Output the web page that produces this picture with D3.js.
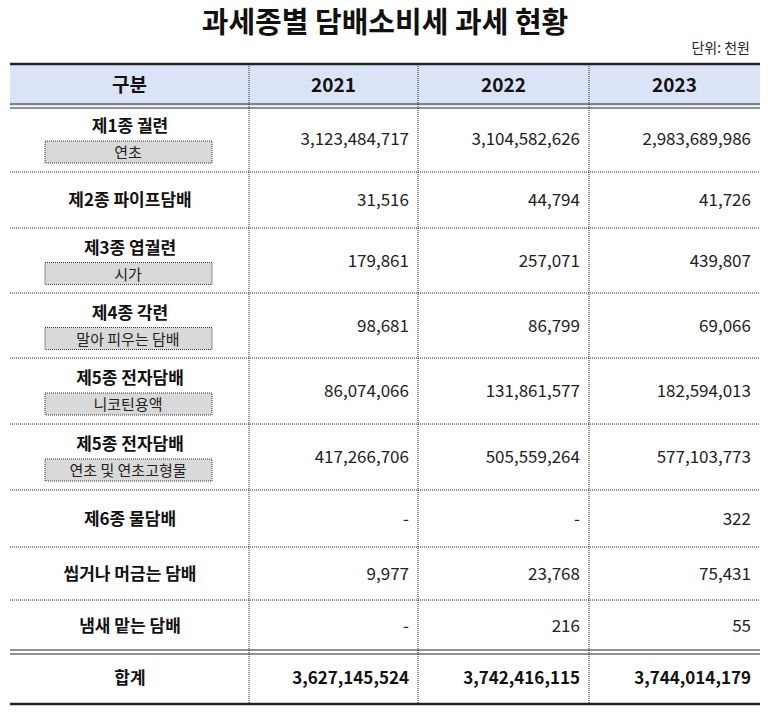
<!DOCTYPE html>
<html><head><meta charset="utf-8">
<script src="https://cdn.jsdelivr.net/npm/d3@7"></script>
<style>body{margin:0;background:#fff}</style></head>
<body><svg id="c" width="768" height="712"></svg>
<script>
const title = "과세종별 담배소비세 과세 현황";
const unit = "단위: 천원";
const headers = ["구분", "2021", "2022", "2023"];
const categories = ["제1종 궐련", "제2종 파이프담배", "제3종 엽궐련", "제4종 각련", "제5종 전자담배", "제5종 전자담배", "제6종 물담배", "씹거나 머금는 담배", "냄새 맡는 담배"];
const subLabels = ["연초", "", "시가", "말아 피우는 담배", "니코틴용액", "연초 및 연초고형물", "", "", ""];
const v2021 = [3123484717, 31516, 179861, 98681, 86074066, 417266706, null, 9977, null];
const v2022 = [3104582626, 44794, 257071, 86799, 131861577, 505559264, null, 23768, 216];
const v2023 = [2983689986, 41726, 439807, 69066, 182594013, 577103773, 322, 75431, 55];
const totalLabel = "합계";
const totals = [3627145524, 3742416115, 3744014179];

(function(){
const svg = d3.select("#c");
const font = "'Malgun Gothic','Noto Sans CJK KR',sans-serif";
const fmt = d3.format(",");
const colX = [10, 249, 418, 589, 760];
const rowH = [66, 56, 65, 65, 66, 66, 57, 53, 52];
const tTop = 64, headH = 42;
const rowY = [tTop + headH];
rowH.forEach((h, i) => rowY.push(rowY[i] + h));
const totalTop = rowY[rowY.length - 1], totalBot = totalTop + 52;

svg.append("text").attr("x", 385).attr("y", 33).attr("text-anchor", "middle")
  .attr("font-family", font).attr("font-size", 29).attr("font-weight", "bold").attr("fill", "#111").text(title);
svg.append("text").attr("x", 750).attr("y", 53).attr("text-anchor", "end")
  .attr("font-family", font).attr("font-size", 14).attr("fill", "#222").text(unit);

svg.append("rect").attr("x", colX[0]).attr("y", tTop).attr("width", colX[4] - colX[0]).attr("height", headH).attr("fill", "#dae4f6");
headers.forEach((h, i) => svg.append("text").attr("x", (colX[i] + colX[i + 1]) / 2).attr("y", tTop + headH / 2 + 7)
  .attr("text-anchor", "middle").attr("font-family", font).attr("font-size", 19).attr("font-weight", "bold").attr("fill", "#111").text(h));

function line(x1, y1, x2, y2, w, dash) {
  const l = svg.append("line").attr("x1", x1).attr("y1", y1).attr("x2", x2).attr("y2", y2).attr("stroke", "#222").attr("stroke-width", w);
  if (dash) l.attr("stroke-dasharray", "1,1");
}
[1, 2, 3].forEach(i => line(colX[i], tTop, colX[i], totalBot, 1, true));

const vals = [v2021, v2022, v2023];
categories.forEach((c, r) => {
  const y0 = rowY[r], y1 = rowY[r + 1], mid = (y0 + y1) / 2;
  if (subLabels[r]) {
    svg.append("text").attr("x", 130).attr("y", mid - 7).attr("text-anchor", "middle").attr("font-family", font)
      .attr("font-size", 17).attr("font-weight", "bold").attr("fill", "#111").text(c);
    svg.append("rect").attr("x", 45).attr("y", mid + 2).attr("width", 167).attr("height", 22).attr("fill", "#d9d9d9")
      .attr("stroke", "#333").attr("stroke-dasharray", "1,1");
    svg.append("text").attr("x", 128).attr("y", mid + 19).attr("text-anchor", "middle").attr("font-family", font)
      .attr("font-size", 15).attr("fill", "#222").text(subLabels[r]);
  } else {
    svg.append("text").attr("x", 130).attr("y", mid + 6).attr("text-anchor", "middle").attr("font-family", font)
      .attr("font-size", 17).attr("font-weight", "bold").attr("fill", "#111").text(c);
  }
  vals.forEach((arr, j) => svg.append("text").attr("x", colX[j + 2] - 9).attr("y", mid + 6).attr("text-anchor", "end")
    .attr("font-family", font).attr("font-size", 17).attr("fill", "#222").text(arr[r] == null ? "-" : fmt(arr[r])));
  if (r < categories.length - 1) line(colX[0], y1, colX[4], y1, 1, true);
});
const tm = (totalTop + totalBot) / 2;
svg.append("text").attr("x", 130).attr("y", tm + 6).attr("text-anchor", "middle").attr("font-family", font)
  .attr("font-size", 17).attr("font-weight", "bold").attr("fill", "#111").text(totalLabel);
totals.forEach((t, j) => svg.append("text").attr("x", colX[j + 2] - 9).attr("y", tm + 6).attr("text-anchor", "end")
  .attr("font-family", font).attr("font-size", 17).attr("font-weight", "bold").attr("fill", "#111").text(fmt(t)));

line(colX[0], tTop, colX[4], tTop, 2.5);
line(colX[0], tTop + headH - 2, colX[4], tTop + headH - 2, 1.2);
line(colX[0], tTop + headH + 2, colX[4], tTop + headH + 2, 1.2);
line(colX[0], totalTop - 2, colX[4], totalTop - 2, 1.2);
line(colX[0], totalTop + 2, colX[4], totalTop + 2, 1.2);
line(colX[0], totalBot, colX[4], totalBot, 2.5);
})();
</script></body></html>
